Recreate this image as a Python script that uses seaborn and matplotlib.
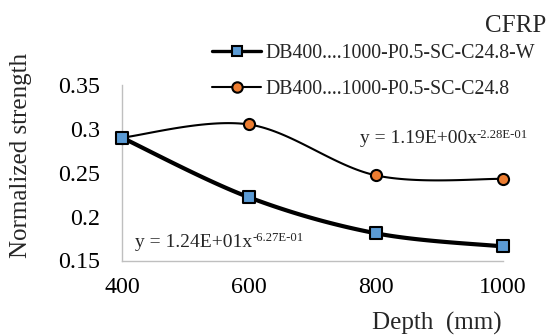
import numpy as np
import pandas as pd
import seaborn as sns
import matplotlib
matplotlib.use("Agg")
import matplotlib.pyplot as plt
from matplotlib.lines import Line2D

depth = [400, 600, 800, 1000]
strength_w = [0.290, 0.222, 0.181, 0.166]
strength = [0.290, 0.305, 0.247, 0.243]
label_w = "DB400....1000-P0.5-SC-C24.8-W"
label = "DB400....1000-P0.5-SC-C24.8"
yticks = [0.15, 0.2, 0.25, 0.3, 0.35]
ytick_labels = ["0.15", "0.2", "0.25", "0.3", "0.35"]
xticks = [400, 600, 800, 1000]
fit_w = ("y = 1.24E+01x", "-6.27E-01")
fit = ("y = 1.19E+00x", "-2.28E-01")

sns.set_style("white")
plt.rcParams["font.family"] = ["Liberation Serif", "DejaVu Serif"]

BLUE = "#5B9BD5"
ORANGE = "#ED7D31"
GRAY = "#BFBFBF"
W, H = 547, 336


def smooth(xs, ys, n=40):
    """Bezier smoothing through the points, like a spreadsheet 'smoothed line'."""
    p = np.column_stack([xs, ys]).astype(float)
    p = np.vstack([p[0], p, p[-1]])
    out = []
    t = np.linspace(0, 1, n)
    for i in range(1, len(p) - 2):
        p0, p1, p2, p3 = p[i - 1], p[i], p[i + 1], p[i + 2]
        c1 = p1 + (p2 - p0) / 6
        c2 = p2 - (p3 - p1) / 6
        seg = ((1 - t) ** 3)[:, None] * p1 + (3 * (1 - t) ** 2 * t)[:, None] * c1 \
            + (3 * (1 - t) * t ** 2)[:, None] * c2 + (t ** 3)[:, None] * p2
        out.append(seg if i == 1 else seg[1:])
    c = np.vstack(out)
    return c[:, 0], c[:, 1]


fig = plt.figure(figsize=(W / 100, H / 100), dpi=100)
left, right, top, bottom = 122, 503, 85, 260.5
ax = fig.add_axes([left / W, 1 - bottom / H, (right - left) / W, (bottom - top) / H])

df = pd.DataFrame({"depth": depth, "w": strength_w, "s": strength})

sx, sy = smooth(df["depth"], df["s"])
ax.plot(sx, sy, color="black", lw=1.5, zorder=2, clip_on=False)
wx, wy = smooth(df["depth"], df["w"])
ax.plot(wx, wy, color="black", lw=3, zorder=2, clip_on=False)

sns.scatterplot(data=df, x="depth", y="s", ax=ax, marker="o", s=64,
                color=ORANGE, edgecolor="black", linewidth=1.5, zorder=3,
                legend=False, clip_on=False)
sns.scatterplot(data=df, x="depth", y="w", ax=ax, marker="s", s=64,
                color=BLUE, edgecolor="black", linewidth=1.5, zorder=4,
                legend=False, clip_on=False)

ax.set_xlim(400, 1000)
ax.set_ylim(0.15, 0.35)
ax.set_xticks(xticks)
ax.set_xticklabels([str(v) for v in xticks])
ax.set_yticks(yticks)
ax.set_yticklabels(ytick_labels)
ax.tick_params(axis="both", labelsize=17.3, colors=GRAY, labelcolor="black",
               length=5.5, width=1, direction="out")
ax.tick_params(axis="x", pad=6.5)
ax.tick_params(axis="y", pad=10)
for side in ["top", "right"]:
    ax.spines[side].set_visible(False)
for side in ["left", "bottom"]:
    ax.spines[side].set_color(GRAY)
    ax.spines[side].set_linewidth(1)
ax.set_xlabel("")
ax.set_ylabel("")

fig.text(21 / W, 1 - 155.5 / H, "Normalized strength", rotation=90,
         ha="center", va="center", fontsize=18)
fig.text(502 / W, 1 - 329.5 / H, "Depth  (mm)", ha="right", va="baseline", fontsize=18)
fig.text(546 / W, 1 - 32 / H, "CFRP", ha="right", va="baseline", fontsize=18)

# power-law fit equations with raised exponents
fig.canvas.draw()
renderer = fig.canvas.get_renderer()
for (base, sup), (x0, y0) in [(fit, (360, 143.3)), (fit_w, (135, 246.7))]:
    t = fig.text(x0 / W, 1 - y0 / H, base, ha="left", va="baseline", fontsize=14)
    ext = t.get_window_extent(renderer)
    fig.text(ext.x1 / W, 1 - (y0 - 5.5) / H, sup, ha="left", va="baseline", fontsize=9.2)

handles = [
    Line2D([], [], color="black", lw=2.4, marker="s", markersize=7.5,
           markerfacecolor=BLUE, markeredgecolor="black", markeredgewidth=1.5),
    Line2D([], [], color="black", lw=1.5, marker="o", markersize=7.5,
           markerfacecolor=ORANGE, markeredgecolor="black", markeredgewidth=1.5),
]
fig.legend(handles, [label_w, label], loc="upper left",
           bbox_to_anchor=(211.7 / W, 1 - 43.5 / H),
           frameon=False, fontsize=14.3, handlelength=2.5, handletextpad=0.2,
           labelspacing=0.9, borderaxespad=0, borderpad=0)

fig.savefig("out.png", dpi=100)
